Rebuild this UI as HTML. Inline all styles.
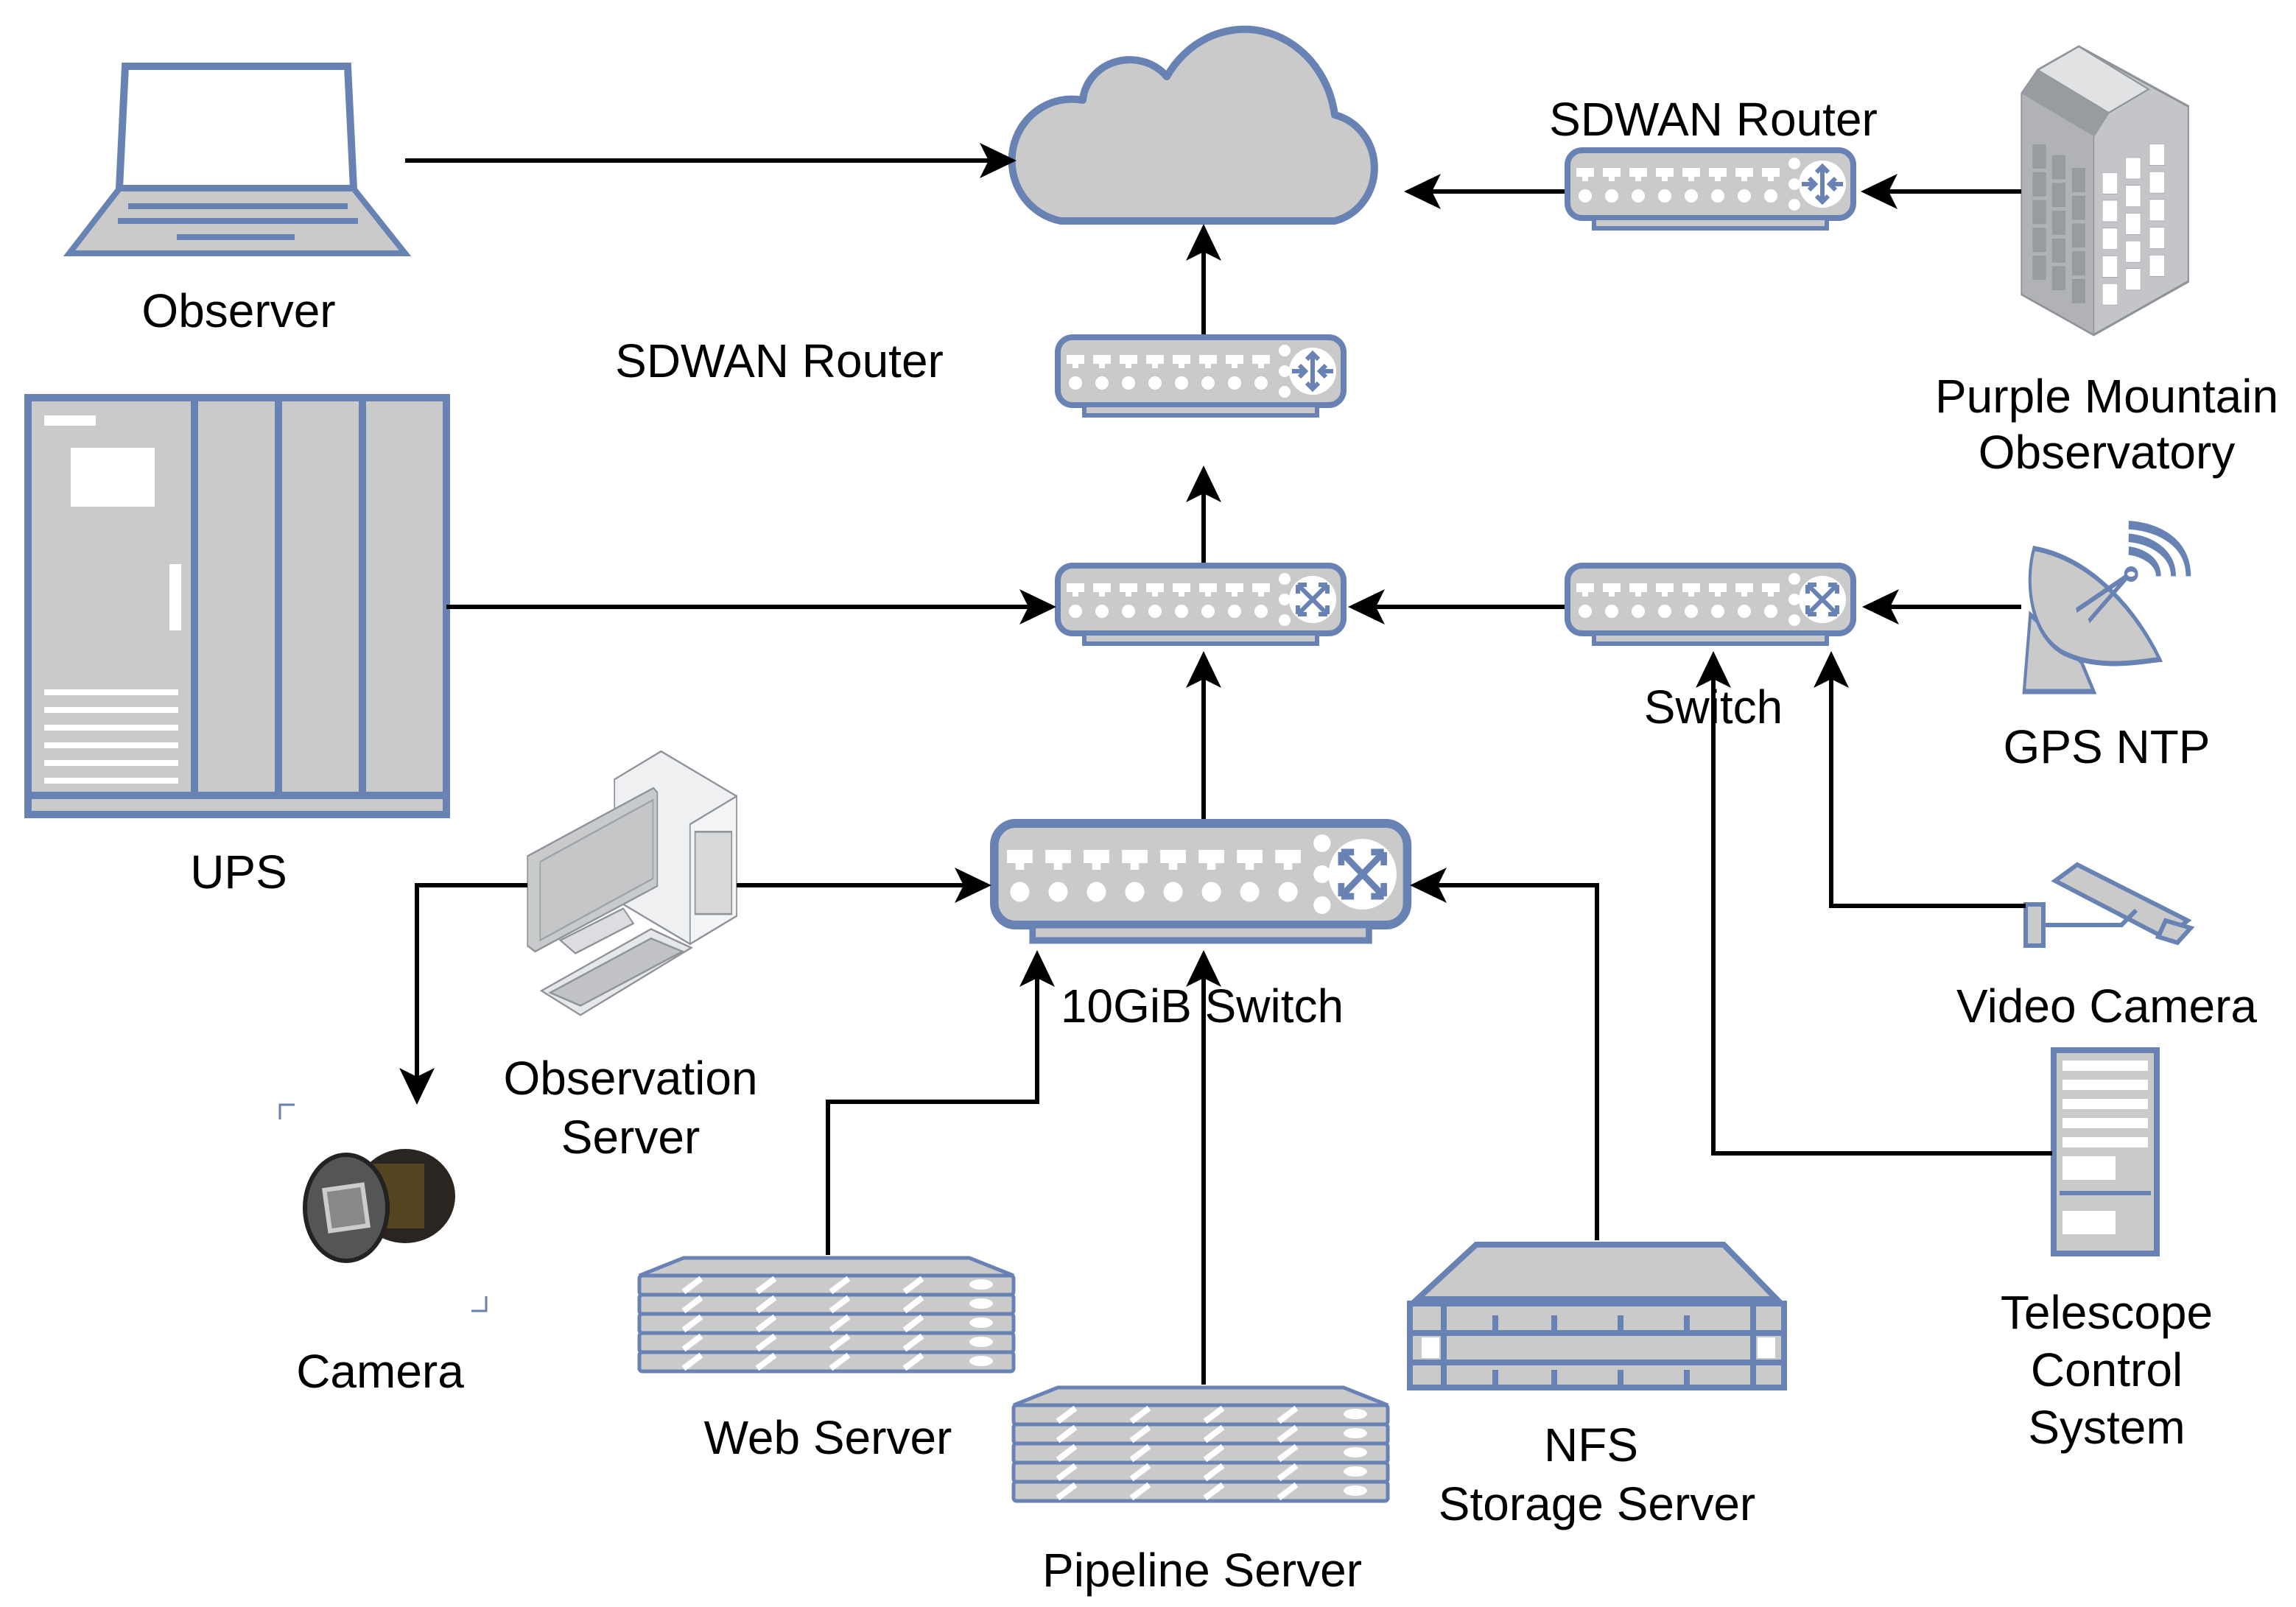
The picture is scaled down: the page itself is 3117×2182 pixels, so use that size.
<!DOCTYPE html>
<html><head><meta charset="utf-8"><style>
html,body{margin:0;padding:0;background:#fff;}
svg{display:block;}
text{font-family:"Liberation Sans",sans-serif;font-size:32px;fill:#000;text-anchor:middle;}
</style></head><body>
<svg width="3117" height="2182" viewBox="0 0 1558.5 1091" xmlns="http://www.w3.org/2000/svg">
<defs>
<g id="dev">
  <rect x="2" y="2" width="194" height="46" rx="10" fill="#cacaca" stroke="#6882b4" stroke-width="4"/>
  <rect x="20" y="48" width="158" height="7" fill="#cacaca" stroke="#6882b4" stroke-width="3"/>
  <g fill="#fff">
    <rect x="8" y="14" width="12" height="6"/><rect x="26" y="14" width="12" height="6"/><rect x="44" y="14" width="12" height="6"/><rect x="62" y="14" width="12" height="6"/><rect x="80" y="14" width="12" height="6"/><rect x="98" y="14" width="12" height="6"/><rect x="116" y="14" width="12" height="6"/><rect x="134" y="14" width="12" height="6"/>
    <rect x="12" y="20" width="4" height="3"/><rect x="30" y="20" width="4" height="3"/><rect x="48" y="20" width="4" height="3"/><rect x="66" y="20" width="4" height="3"/><rect x="84" y="20" width="4" height="3"/><rect x="102" y="20" width="4" height="3"/><rect x="120" y="20" width="4" height="3"/><rect x="138" y="20" width="4" height="3"/>
    <circle cx="14" cy="33" r="4.5"/><circle cx="32" cy="33" r="4.5"/><circle cx="50" cy="33" r="4.5"/><circle cx="68" cy="33" r="4.5"/><circle cx="86" cy="33" r="4.5"/><circle cx="104" cy="33" r="4.5"/><circle cx="122" cy="33" r="4.5"/><circle cx="140" cy="33" r="4.5"/>
    <circle cx="156" cy="11" r="4"/><circle cx="156" cy="25" r="4"/><circle cx="156" cy="39" r="4"/>
    <circle cx="175" cy="25" r="16"/>
  </g>
</g>
<g id="xsw"><g stroke="#6882b4" stroke-width="3" fill="none">
  <path d="M165,15 L185,35 M185,15 L165,35 M165,15 v6 M165,15 h6 M185,15 v6 M185,15 h-6 M165,35 v-6 M165,35 h6 M185,35 v-6 M185,35 h-6"/></g></g>
<g id="xrt"><g stroke="#6882b4" stroke-width="3" fill="none">
  <path d="M175,13 V37 M171,17 L175,13 L179,17 M171,33 L175,37 L179,33 M161,25 h9 M166,21 l4,4 l-4,4 M189,25 h-9 M184,21 l-4,4 l4,4"/></g></g>
<g id="rack">
  <polygon points="0,14 30,2 224,2 254,14" fill="#cacaca" stroke="#6882b4" stroke-width="2.5"/>
  <g fill="#cacaca" stroke="#6882b4" stroke-width="2.5">
   <rect x="0" y="14" width="254" height="13" rx="2"/><rect x="0" y="27" width="254" height="13" rx="2"/><rect x="0" y="40" width="254" height="13" rx="2"/><rect x="0" y="53" width="254" height="13" rx="2"/><rect x="0" y="66" width="254" height="13" rx="2"/>
  </g>
  <g stroke="#fff" stroke-width="4">
   <path d="M30,25 l12,-9 M80,25 l12,-9 M130,25 l12,-9 M180,25 l12,-9 M30,38 l12,-9 M80,38 l12,-9 M130,38 l12,-9 M180,38 l12,-9 M30,51 l12,-9 M80,51 l12,-9 M130,51 l12,-9 M180,51 l12,-9 M30,64 l12,-9 M80,64 l12,-9 M130,64 l12,-9 M180,64 l12,-9 M30,77 l12,-9 M80,77 l12,-9 M130,77 l12,-9 M180,77 l12,-9"/>
  </g>
  <g fill="#fff"><ellipse cx="232" cy="20" rx="8" ry="3.5"/><ellipse cx="232" cy="33" rx="8" ry="3.5"/><ellipse cx="232" cy="46" rx="8" ry="3.5"/><ellipse cx="232" cy="59" rx="8" ry="3.5"/><ellipse cx="232" cy="72" rx="8" ry="3.5"/></g>
</g>
</defs>

<!-- Cloud -->
<path d="M720,150 H906 A35,37 0 0 0 906,78 A62,68 0 0 0 792,52 A32,30 0 0 0 735,68 A40,41 0 0 0 720,150 Z" fill="#cacaca" stroke="#6882b4" stroke-width="5" stroke-linejoin="round"/>

<!-- Laptop -->
<polygon points="85,45 236,45 240,128 81,128" fill="#fff" stroke="#6882b4" stroke-width="5"/>
<polygon points="81,128 240,128 275,172 47,172" fill="#cacaca" stroke="#6882b4" stroke-width="4"/>
<path d="M87,140 H236 M80,150 H243 M120,161 H200" stroke="#6882b4" stroke-width="4"/>

<!-- UPS -->
<rect x="19" y="270" width="284" height="283" fill="#cacaca" stroke="#6882b4" stroke-width="5"/>
<path d="M19,540 H303 M132,270 V540 M189,270 V540 M246,270 V540" stroke="#6882b4" stroke-width="5"/>
<rect x="48" y="304" width="57" height="40" fill="#fff"/>
<rect x="30" y="282" width="35" height="7" fill="#fff"/>
<rect x="115" y="383" width="8" height="45" fill="#fff"/>
<g stroke="#fff" stroke-width="4"><path d="M30,470 H121 M30,482 H121 M30,494 H121 M30,506 H121 M30,518 H121 M30,530 H121"/></g>

<!-- Building -->
<g transform="translate(1357,20) scale(0.169,0.29)">
<polygon points="90,150 155,95 320,40 760,180 760,590 380,715 90,620" fill="#c3c5c8" stroke="#8f9398" stroke-width="6"/>
<polygon points="90,150 155,95 440,195 380,250 380,715 90,620" fill="#b0b2b6" stroke="#8f9398" stroke-width="4"/>
<polygon points="155,95 320,40 600,140 440,195" fill="#e1e2e4" stroke="#8f9398" stroke-width="4"/>
<polygon points="90,150 155,95 440,195 380,250" fill="#989ca1"/>
<g fill="#989ca1" stroke="#8f9398"><rect x="135" y="270" width="52" height="55"/><rect x="135" y="335" width="52" height="55"/><rect x="135" y="400" width="52" height="55"/><rect x="135" y="465" width="52" height="55"/><rect x="135" y="530" width="52" height="55"/><rect x="213" y="295" width="52" height="55"/><rect x="213" y="360" width="52" height="55"/><rect x="213" y="425" width="52" height="55"/><rect x="213" y="490" width="52" height="55"/><rect x="213" y="555" width="52" height="55"/><rect x="293" y="325" width="52" height="55"/><rect x="293" y="390" width="52" height="55"/><rect x="293" y="455" width="52" height="55"/><rect x="293" y="520" width="52" height="55"/><rect x="293" y="585" width="52" height="55"/></g>
<g fill="#fff" stroke="#8f9398"><rect x="415" y="335" width="60" height="50"/><rect x="415" y="400" width="60" height="50"/><rect x="415" y="465" width="60" height="50"/><rect x="415" y="530" width="60" height="50"/><rect x="415" y="595" width="60" height="50"/><rect x="508" y="300" width="60" height="50"/><rect x="508" y="365" width="60" height="50"/><rect x="508" y="430" width="60" height="50"/><rect x="508" y="495" width="60" height="50"/><rect x="508" y="560" width="60" height="50"/><rect x="604" y="268" width="60" height="50"/><rect x="604" y="333" width="60" height="50"/><rect x="604" y="398" width="60" height="50"/><rect x="604" y="463" width="60" height="50"/><rect x="604" y="528" width="60" height="50"/></g>
</g>

<!-- Dish -->
<g transform="translate(1357,20) scale(0.169,0.29)" stroke="#6882b4" stroke-width="12" fill="#cacaca">
<polygon points="125,1370 330,1480 380,1550 100,1550"/>
<path d="M140,1215 C100,1300 130,1420 260,1460 C400,1500 560,1480 645,1475 C560,1370 380,1240 140,1215 Z"/>
<path d="M310,1360 L525,1275 M360,1385 L525,1275" fill="none"/>
<ellipse cx="530" cy="1275" rx="22" ry="12" fill="#fff"/>
<path d="M520,1160 C640,1165 760,1200 760,1280 M520,1190 C610,1195 700,1225 700,1280 M520,1220 C580,1225 640,1245 640,1280" fill="none" stroke-width="20"/>
</g>

<!-- Observation server (PC) -->
<g transform="translate(341,505) scale(0.171,0.254)" stroke="#8f9398" stroke-width="5">
<polygon points="445,95 630,20 930,140 930,460 745,535 445,415" fill="#eef0f1"/>
<polygon points="745,215 930,140 930,460 745,535" fill="#f3f4f5"/>
<rect x="765" y="235" width="145" height="220" fill="#d8d9db"/>
<polygon points="100,300 600,118 615,130 615,380 130,555 100,540" fill="#c8cacc"/>
<polygon points="150,315 598,150 598,360 150,525" fill="#c4c6c8" stroke="#a0a3a6"/>
<polygon points="230,525 480,440 520,480 290,560" fill="#dcdde0"/>
<polygon points="155,660 590,495 750,545 310,725" fill="#e6e7e9"/>
<polygon points="190,665 590,520 715,555 310,700" fill="#c0c2c5"/>
</g>

<!-- Camera -->
<path d="M190,760 V750 H200 M330,880 V890 H320" stroke="#6882b4" stroke-width="1.5" fill="none"/>
<ellipse cx="275" cy="812" rx="34" ry="32" fill="#2a2520"/>
<rect x="248" y="790" width="40" height="44" fill="#6a5020" opacity="0.7"/>
<ellipse cx="235" cy="820" rx="28" ry="36" fill="#555" stroke="#222" stroke-width="3"/>
<rect x="222" y="806" width="26" height="28" fill="#888" stroke="#ccc" stroke-width="3" transform="rotate(-8 235 820)"/>

<!-- Devices -->
<use href="#dev" transform="translate(1062,100)"/><use href="#xrt" transform="translate(1062,100)"/>
<use href="#dev" transform="translate(716,227)"/><use href="#xrt" transform="translate(716,227)"/>
<use href="#dev" transform="translate(716,382)"/><use href="#xsw" transform="translate(716,382)"/>
<use href="#dev" transform="translate(1062,382)"/><use href="#xsw" transform="translate(1062,382)"/>
<use href="#dev" transform="translate(672,556) scale(1.445,1.5)"/><use href="#xsw" transform="translate(672,556) scale(1.445,1.5)"/>

<!-- Web server & pipeline -->
<use href="#rack" transform="translate(434,852)"/>
<use href="#rack" transform="translate(688,940)"/>

<!-- NFS -->
<g stroke="#6882b4" stroke-width="4">
<polygon points="962,882 1002,845 1170,845 1206,882" fill="#cacaca"/>
<rect x="957" y="885" width="254" height="57" fill="#cacaca"/>
<path d="M957,905 H1211 M957,925 H1211 M980,885 V942 M1190,885 V942 M1015,893 V905 M1055,893 V905 M1100,893 V905 M1145,893 V905 M1015,930 V942 M1055,930 V942 M1100,930 V942 M1145,930 V942" fill="none"/>
</g>
<g fill="#fff"><rect x="965" y="908" width="12" height="14"/><rect x="1193" y="908" width="12" height="14"/></g>

<!-- Video camera -->
<g stroke="#6882b4" stroke-width="3" fill="#cacaca">
<polygon points="1395,598 1410,587 1485,625 1470,637"/>
<polygon points="1470,625 1487,630 1478,640 1465,636"/>
<rect x="1375" y="614" width="12" height="28"/>
<path d="M1387,628 L1440,628 L1450,618" fill="none"/>
</g>

<!-- Telescope rack -->
<rect x="1394" y="713" width="70" height="138" fill="#cacaca" stroke="#6882b4" stroke-width="4"/>
<g fill="#fff"><rect x="1400" y="720" width="58" height="7"/><rect x="1400" y="733" width="58" height="7"/><rect x="1400" y="746" width="58" height="7"/><rect x="1400" y="759" width="58" height="7"/><rect x="1400" y="772" width="58" height="7"/><rect x="1400" y="785" width="36" height="16"/><rect x="1400" y="822" width="36" height="16"/></g>
<path d="M1398,810 H1460" stroke="#6882b4" stroke-width="3"/>

<!-- Connectors -->
<g stroke="#000" stroke-width="3" fill="none">
<path d="M275,109 H672"/>
<path d="M1062,130 H972"/>
<path d="M1372,130 H1280"/>
<path d="M817,227 V170"/>
<path d="M817,382 V334"/>
<path d="M303,412 H700"/>
<path d="M1062,412 H932"/>
<path d="M1372,412 H1280"/>
<path d="M817,556 V460"/>
<path d="M500,601 H656"/>
<path d="M358,601 H283 V732"/>
<path d="M562,852 V748 H704 V662"/>
<path d="M817,940 V662"/>
<path d="M1084,842 V601 H974"/>
<path d="M1375,615 H1243 V460"/>
<path d="M1393,783 H1163 V460"/>
</g>
<g fill="#000">
<polygon points="690,109 665,97 671,109 665,121"/>
<polygon points="953,130 978,118 972,130 978,142"/>
<polygon points="1263,130 1288,118 1282,130 1288,142"/>
<polygon points="817,152 805,177 817,171 829,177"/>
<polygon points="817,316 805,341 817,335 829,341"/>
<polygon points="717,412 692,400 698,412 692,424"/>
<polygon points="915,412 940,400 934,412 940,424"/>
<polygon points="1264,412 1289,400 1283,412 1289,424"/>
<polygon points="817,442 805,467 817,461 829,467"/>
<polygon points="673,601 648,589 654,601 648,613"/>
<polygon points="283,750 271,725 283,731 295,725"/>
<polygon points="704,645 692,670 704,664 716,670"/>
<polygon points="817,645 805,670 817,664 829,670"/>
<polygon points="957,601 982,589 976,601 982,613"/>
<polygon points="1243,442 1231,467 1243,461 1255,467"/>
<polygon points="1163,442 1151,467 1163,461 1175,467"/>
</g>

<!-- Labels -->
<text x="162" y="222">Observer</text>
<text x="529" y="256">SDWAN Router</text>
<text x="1163" y="92">SDWAN Router</text>
<text x="1430" y="280">Purple Mountain</text>
<text x="1430" y="318">Observatory</text>
<text x="162" y="603">UPS</text>
<text x="1163" y="491">Switch</text>
<text x="1430" y="518">GPS NTP</text>
<text x="428" y="743">Observation</text>
<text x="428" y="783">Server</text>
<text x="816" y="694">10GiB Switch</text>
<text x="1430" y="694">Video Camera</text>
<text x="258" y="942">Camera</text>
<text x="562" y="987">Web Server</text>
<text x="1430" y="902">Telescope</text>
<text x="1430" y="941">Control</text>
<text x="1430" y="980">System</text>
<text x="1080" y="992">NFS</text>
<text x="1084" y="1032">Storage Server</text>
<text x="816" y="1077">Pipeline Server</text>
</svg>
</body></html>
